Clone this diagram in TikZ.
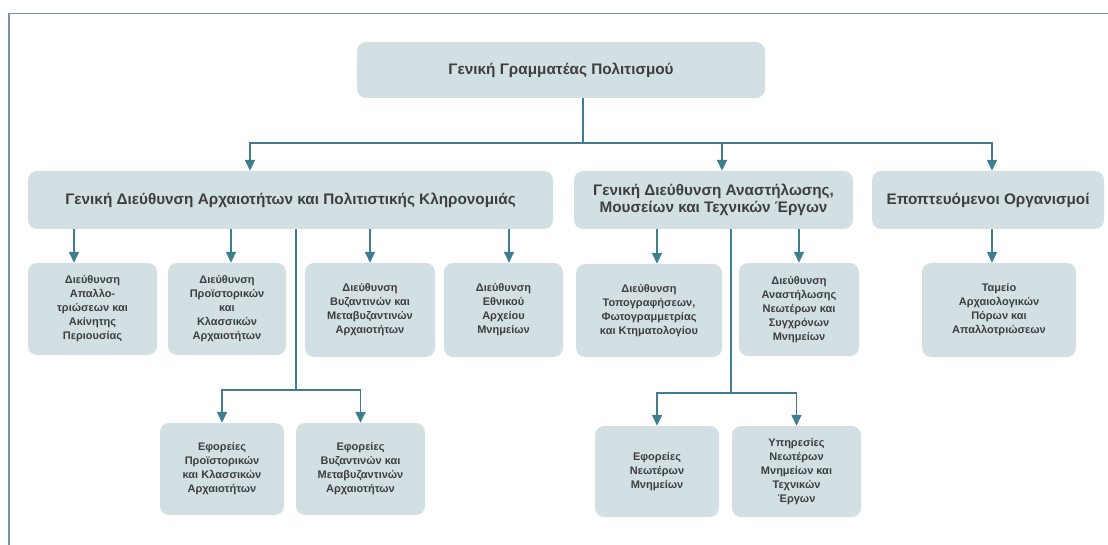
\documentclass[tikz,border=0pt]{standalone}
\usepackage{fontspec}
\setmainfont{Liberation Sans}
\usetikzlibrary{arrows.meta}
\definecolor{boxfill}{RGB}{210, 224, 228}
\definecolor{linkteal}{RGB}{62, 126, 143}
\definecolor{textgray}{RGB}{62, 62, 62}
\definecolor{framegray}{RGB}{130, 146, 165}

\begin{document}
\begin{tikzpicture}[x=1pt, y=-1pt,
  box/.style={fill=boxfill, rounded corners=9pt, align=center, text=textgray,
    inner sep=0pt, font=\fontsize{15.3}{16.5}\selectfont\bfseries},
  unit/.style={box, font=\fontsize{11}{14}\selectfont\bfseries},
  link/.style={draw=linkteal, line width=1.6pt},
  arrow/.style={link, -{Triangle[width=10pt, length=11pt]}}]

\useasboundingbox (0,0) rectangle (1108,545);

% ===== frame =====
\draw[framegray, line width=1.2pt] (9,545) -- (9,13.5) -- (1108,13.5);

% ===== top level =====
\node[box, minimum width=408, minimum height=56] (gg) at (561,70)
  {Γενική Γραμματέας Πολιτισμού};

% ===== general directorates =====
\node[box, minimum width=525, minimum height=58] (gda) at (290.5,200)
  {Γενική Διεύθυνση Αρχαιοτήτων και Πολιτιστικής Κληρονομιάς};
\node[box, minimum width=279, minimum height=58] (gdr) at (713.5,200)
  {Γενική Διεύθυνση Αναστήλωσης,\\Μουσείων και Τεχνικών Έργων};
\node[box, minimum width=232, minimum height=58] (eo) at (988,200)
  {Εποπτευόμενοι Οργανισμοί};

% ===== directorates under gda =====
\node[unit, minimum width=129, minimum height=92] (apal) at (92.5,309)
  {Διεύθυνση\\Απαλλο-\\τριώσεων και\\Ακίνητης\\Περιουσίας};
\node[unit, minimum width=118, minimum height=92] (proi) at (227,309)
  {Διεύθυνση\\Προϊστορικών\\και\\Κλασσικών\\Αρχαιοτήτων};
\node[unit, minimum width=130, minimum height=94] (byz) at (370,310)
  {Διεύθυνση\\Βυζαντινών και\\Μεταβυζαντινών\\Αρχαιοτήτων};
\node[unit, minimum width=119, minimum height=94] (arx) at (503.5,310)
  {Διεύθυνση\\Εθνικού\\Αρχείου\\Μνημείων};
\node[unit, minimum width=124, minimum height=92] (efpr) at (222,469)
  {Εφορείες\\Προϊστορικών\\και Κλασσικών\\Αρχαιοτήτων};
\node[unit, minimum width=129, minimum height=92] (efbz) at (360.5,469)
  {Εφορείες\\Βυζαντινών και\\Μεταβυζαντινών\\Αρχαιοτήτων};

% ===== directorates under gdr =====
\node[unit, minimum width=146, minimum height=93] (topo) at (649,310.5)
  {Διεύθυνση\\Τοπογραφήσεων,\\Φωτογραμμετρίας\\και Κτηματολογίου};
\node[unit, minimum width=120, minimum height=93] (anas) at (799,309.5)
  {Διεύθυνση\\Αναστήλωσης\\Νεωτέρων και\\Συγχρόνων\\Μνημείων};
\node[unit, minimum width=124, minimum height=91] (efne) at (657,471.5)
  {Εφορείες\\Νεωτέρων\\Μνημείων};
\node[unit, minimum width=129, minimum height=91] (ypne) at (796.5,471.5)
  {Υπηρεσίες\\Νεωτέρων\\Μνημείων και\\Τεχνικών\\Έργων};

% ===== under eo =====
\node[unit, minimum width=154, minimum height=94] (tap) at (999,310)
  {Ταμείο\\Αρχαιολογικών\\Πόρων και\\Απαλλοτριώσεων};

% ===== connectors =====
\coordinate (j0) at (583,143);
\coordinate (j1) at (296,390);
\coordinate (j2) at (731,393);

\draw[link] (gg.south -| j0) -- (j0);
\draw[arrow] (j0) -| ([xshift=-40.5pt]gda.north);
\draw[arrow] (j0) -| ([xshift=8.5pt]gdr.north);
\draw[arrow] (j0) -| ([xshift=4pt]eo.north);

\draw[arrow] ([xshift=-18.5pt]apal.north |- gda.south) -- ([xshift=-18.5pt]apal.north);
\draw[arrow] ([xshift=4pt]proi.north |- gda.south) -- ([xshift=4pt]proi.north);
\draw[arrow] (byz.north |- gda.south) -- (byz.north);
\draw[arrow] ([xshift=5.5pt]arx.north |- gda.south) -- ([xshift=5.5pt]arx.north);
\draw[link] (gda.south -| j1) -- (j1);
\draw[arrow] (j1) -| (efpr.north);
\draw[arrow] (j1) -| (efbz.north);

\draw[arrow] ([xshift=8pt]topo.north |- gdr.south) -- ([xshift=8pt]topo.north);
\draw[arrow] (anas.north |- gdr.south) -- (anas.north);
\draw[link] (gdr.south -| j2) -- (j2);
\draw[arrow] (j2) -| (efne.north);
\draw[arrow] (j2) -| (ypne.north);

\draw[arrow] ([xshift=-7pt]tap.north |- eo.south) -- ([xshift=-7pt]tap.north);

\end{tikzpicture}
\end{document}
